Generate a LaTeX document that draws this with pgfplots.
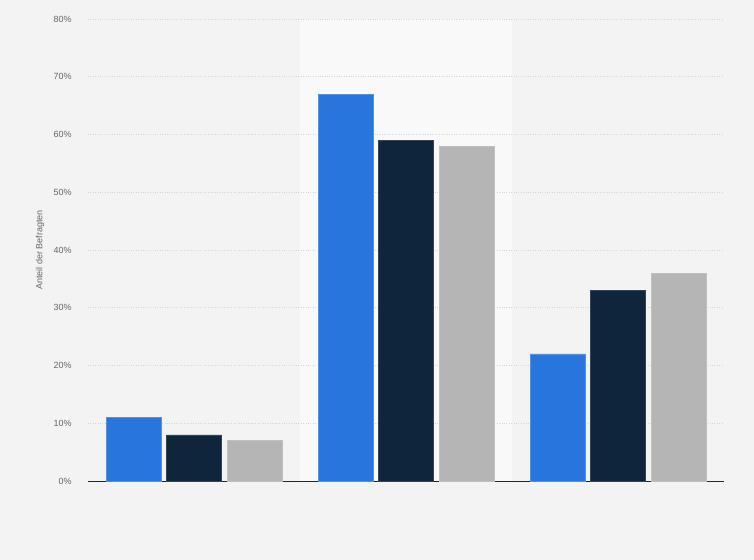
\documentclass[border=0pt]{standalone}
\usepackage{pgfplots}
\pgfplotsset{compat=1.18}
\usepackage{fontspec}
\setmainfont{Liberation Sans}

\definecolor{bg}{HTML}{F3F3F3}
\definecolor{band}{HTML}{F9F9F9}
\definecolor{cblue}{HTML}{2876DD}
\definecolor{cnavy}{HTML}{0F253C}
\definecolor{cgray}{HTML}{B5B5B5}
\definecolor{txt}{HTML}{666666}

\begin{document}
\begin{tikzpicture}[font=\fontsize{9}{11}\selectfont]
  \pgfplotsset{set layers}
  \begin{axis}[
      at={(0,0)}, anchor=south west,
      scale only axis,
      width=636bp, height=462bp,
      ybar=5.5bp, bar width=55bp,
      xmin=-0.5, xmax=2.5,
      ymin=0, ymax=80,
      xtick=\empty,
      ytick={0,10,...,80},
      yticklabel={\pgfmathprintnumber{\tick}\%},
      /pgf/number format/assume math mode=true,
      yticklabel style={text=txt, xshift=-13bp},
      major tick length=0pt,
      axis x line=bottom,
      axis y line=left,
      x axis line style={draw=black!85, line width=0.8pt, -},
      y axis line style={draw=none},
      ymajorgrids,
      grid style={dotted, draw=black!16, line width=0.5pt},
      ylabel={Anteil der Befragten},
      ylabel style={at={(axis description cs:-0.0755,0.5)}, anchor=center, text=txt},
      clip=false,
    ]
    \begin{pgfonlayer}{axis background}
      % page background, 754 x 560 bp round the 636 x 462 axis box
      \fill[bg] ([xshift=-88bp,yshift=-79bp]rel axis cs:0,0)
        rectangle ([xshift=30bp,yshift=19bp]rel axis cs:1,1);
      \fill[band] (axis cs:0.5,0) rectangle (axis cs:1.5,80);
    \end{pgfonlayer}
    \addplot[fill=cblue, draw=cblue!80!white] coordinates {(0,11) (1,67) (2,22)};
    \addplot[fill=cnavy, draw=cnavy!85!white] coordinates {(0,8) (1,59) (2,33)};
    \addplot[fill=cgray, draw=cgray!85!white] coordinates {(0,7) (1,58) (2,36)};
  \end{axis}
\end{tikzpicture}
\end{document}
